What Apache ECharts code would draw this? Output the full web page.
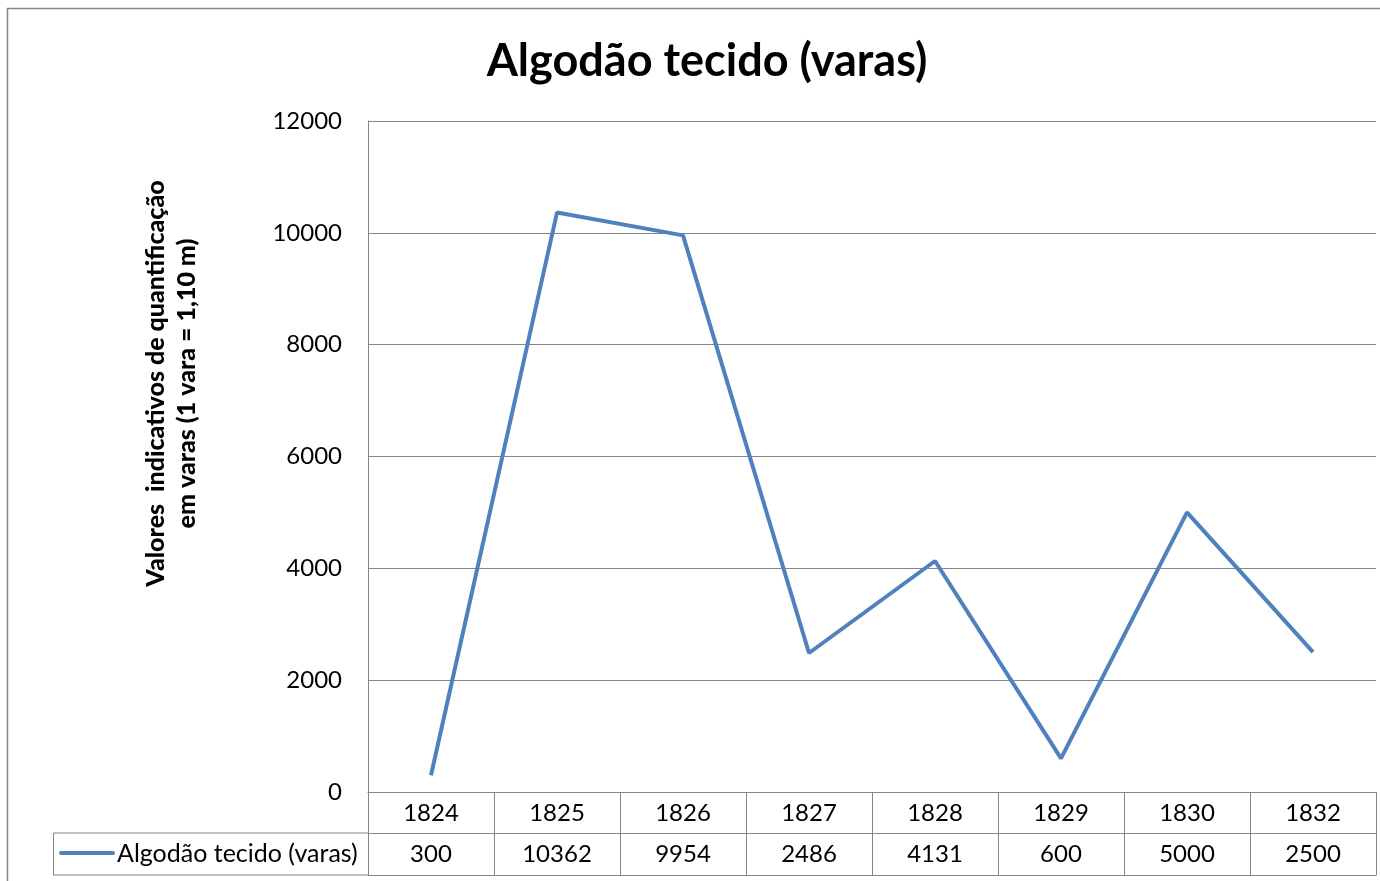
<!DOCTYPE html>
<html>
<head>
<meta charset="utf-8">
<script src="https://cdn.jsdelivr.net/npm/echarts@6/dist/echarts.min.js"></script>
<style>
  html, body { margin: 0; padding: 0; background: #fff; }
  #chart { width: 1380px; height: 881px; }
</style>
</head>
<body>
<div id="chart"></div>
<script>
const years = ['1824', '1825', '1826', '1827', '1828', '1829', '1830', '1832'];
const values = [300, 10362, 9954, 2486, 4131, 600, 5000, 2500];
const seriesName = 'Algodão tecido (varas)';
const yTicks = { min: 0, max: 12000, interval: 2000 };

const FONT = 'Lato, "Open Sans", sans-serif';
const GRAY = '#868686';
const BLUE = '#4F81BD';
const LABEL_SIZE = 24;

const chart = echarts.init(document.getElementById('chart'));

chart.setOption({
  animation: false,
  backgroundColor: '#fff',
  title: {
    text: seriesName,
    left: 702, top: 34, textAlign: 'center',
    textStyle: { fontFamily: FONT, fontSize: 45, fontWeight: 'bold', color: '#000' },
  },
  grid: { left: 368, right: 4, top: 121, bottom: 89 },
  xAxis: [
    {
      // year row of the data table
      type: 'category', data: years, position: 'bottom', boundaryGap: true,
      axisLine: { show: true, lineStyle: { color: GRAY, width: 1 } },
      axisTick: { show: true, length: 83, interval: 0, lineStyle: { color: GRAY } },
      axisLabel: { interval: 0, margin: 9, color: '#000', fontFamily: FONT, fontSize: LABEL_SIZE },
    },
    {
      // value row of the data table
      type: 'category', data: values.map(String), position: 'bottom', offset: 41,
      axisLine: { show: true, lineStyle: { color: GRAY, width: 1 } },
      axisTick: { show: false },
      axisLabel: { interval: 0, margin: 9, color: '#000', fontFamily: FONT, fontSize: LABEL_SIZE },
    },
    {
      // bottom edge of the table
      type: 'category', data: years, position: 'bottom', offset: 83,
      axisLine: { show: true, lineStyle: { color: GRAY, width: 1 } },
      axisTick: { show: false }, axisLabel: { show: false },
    },
  ],
  yAxis: {
    type: 'value', min: yTicks.min, max: yTicks.max, interval: yTicks.interval,
    name: 'Valores  indicativos de quantificação\nem varas (1 vara = 1,10 m)',
    nameLocation: 'middle', nameGap: 166,
    nameTextStyle: {
      fontFamily: FONT, fontSize: 25, fontWeight: 900, color: '#000', lineHeight: 31,
      padding: [0, 0, 0, 146],
    },
    axisLine: { show: true, lineStyle: { color: GRAY, width: 1 } },
    axisTick: { show: false },
    axisLabel: { margin: 26, color: '#000', fontFamily: FONT, fontSize: LABEL_SIZE, formatter: v => String(v) },
    splitLine: { lineStyle: { color: GRAY, width: 1 } },
  },
  series: [{
    name: seriesName, type: 'line', data: values, xAxisIndex: 0,
    showSymbol: false, symbol: 'none',
    lineStyle: { color: BLUE, width: 4 },
  }],
  graphic: [
    { type: 'rect', shape: { x: 7.5, y: 8.5, width: 1420, height: 920 },
      style: { fill: null, stroke: GRAY, lineWidth: 1.5 }, silent: true, z: -1 },
    { type: 'rect', shape: { x: 53.5, y: 833, width: 315, height: 42 },
      style: { fill: null, stroke: GRAY, lineWidth: 1 }, silent: true },
    { type: 'line', shape: { x1: 61, y1: 853, x2: 113, y2: 853 },
      style: { stroke: BLUE, lineWidth: 4, lineCap: 'round' }, silent: true },
    { type: 'text', x: 117, y: 854,
      style: { text: seriesName, fontFamily: FONT, fontSize: 25, fill: '#000', verticalAlign: 'middle' },
      silent: true },
  ],
});
</script>
</body>
</html>
